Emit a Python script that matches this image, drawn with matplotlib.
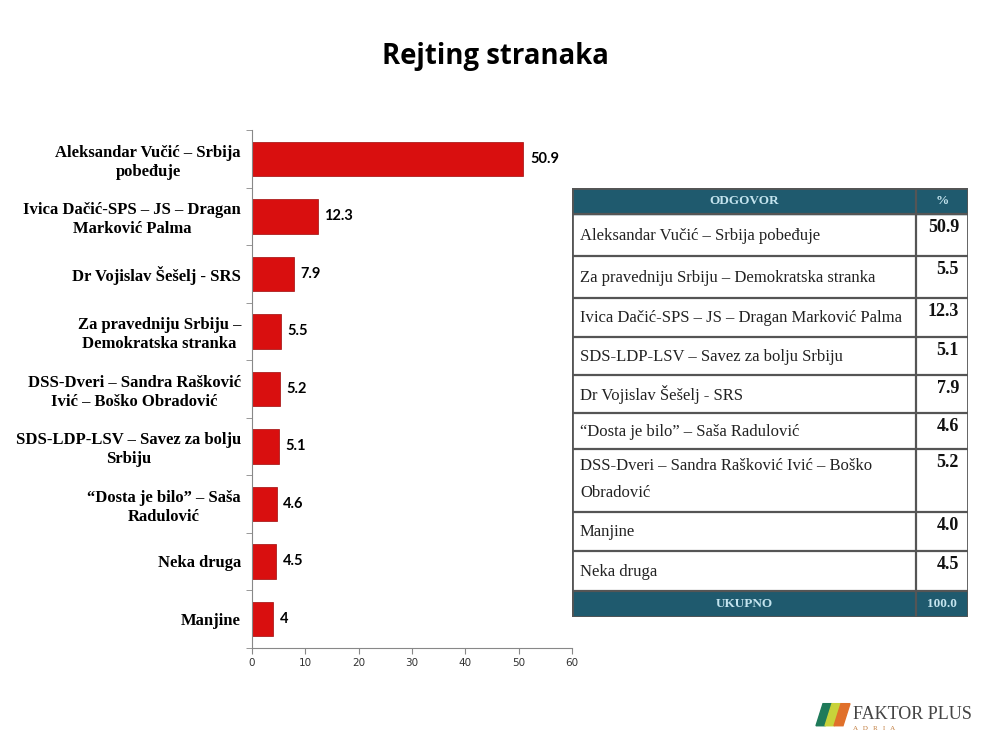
import matplotlib.pyplot as plt
from matplotlib.patches import Rectangle, Polygon
import numpy as np

# podaci - grafikon
stranke = ["Aleksandar Vučić – Srbija\npobeđuje",
           "Ivica Dačić-SPS – JS – Dragan\nMarković Palma",
           "Dr Vojislav Šešelj - SRS",
           "Za pravedniju Srbiju –\nDemokratska stranka",
           "DSS-Dveri – Sandra Rašković\nIvić – Boško Obradović",
           "SDS-LDP-LSV – Savez za bolju\nSrbiju",
           "“Dosta je bilo” – Saša\nRadulović",
           "Neka druga",
           "Manjine"]
rejting = [50.9, 12.3, 7.9, 5.5, 5.2, 5.1, 4.6, 4.5, 4]
natpisi = ["50.9", "12.3", "7.9", "5.5", "5.2", "5.1", "4.6", "4.5", "4"]
x_ticks = [0, 10, 20, 30, 40, 50, 60]

# podaci - tabela
odgovori = ["Aleksandar Vučić – Srbija pobeđuje",
            "Za pravedniju Srbiju – Demokratska stranka",
            "Ivica Dačić-SPS – JS – Dragan Marković Palma",
            "SDS-LDP-LSV – Savez za bolju Srbiju",
            "Dr Vojislav Šešelj - SRS",
            "“Dosta je bilo” – Saša Radulović",
            "DSS-Dveri – Sandra Rašković Ivić – Boško\nObradović",
            "Manjine",
            "Neka druga"]
procenti = ["50.9", "5.5", "12.3", "5.1", "7.9", "4.6", "5.2", "4.0", "4.5"]
ukupno = "100.0"

fig = plt.figure(figsize=(10, 7.48), dpi=100)
fig.patch.set_facecolor("white")

fig.text(0.495, 0.924, "Rejting stranaka", ha="center", va="center",
         fontsize=19.8, fontweight="bold", family="Open Sans")

# --- grafikon ---
ax = fig.add_axes([0.252, 0.134, 0.32, 0.692])
y = np.arange(len(stranke))
ax.barh(y, rejting, height=0.6, color="#d90f0f", edgecolor="#a00a0a", linewidth=0.5)
for yi, v, t in zip(y, rejting, natpisi):
    ax.text(v + 1.2, yi, t, va="center", ha="left", fontsize=10.5, fontweight="bold",
            family="Lato")
ax.set_ylim(len(stranke) - 0.5, -0.5)
ax.set_xlim(0, 60)
ax.set_yticks(y)
ax.set_yticklabels(stranke, family="Liberation Serif", fontweight="bold", fontsize=12,
                   linespacing=1.25, multialignment="center")
ax.set_yticks(np.arange(len(stranke) + 1) - 0.5, minor=True)
ax.tick_params(axis="y", which="major", length=0, pad=8)
ax.tick_params(axis="y", which="minor", length=4, color="#888888")
ax.set_xticks(x_ticks)
ax.tick_params(axis="x", labelsize=7.5, length=4, color="#888888", labelcolor="#333333")
for s in ["top", "right"]:
    ax.spines[s].set_visible(False)
for s in ["left", "bottom"]:
    ax.spines[s].set_color("#888888")

# --- tabela (u pikselima) ---
tx0, tx1, ty0, ty1 = 572, 968, 188, 617
ta = fig.add_axes([tx0 / 1000, 1 - ty1 / 748, (tx1 - tx0) / 1000, (ty1 - ty0) / 748])
ta.set_xlim(0, tx1 - tx0)
ta.set_ylim(ty1 - ty0, 0)
ta.axis("off")
W = tx1 - tx0
kol = 916 - tx0
granice = [0, 26, 68, 110, 149, 187, 225, 261, 324, 363, 403, 429]
teget = "#1f5a6e"
svetla = "#c4e4ee"
ta.add_patch(Rectangle((0, 0), W, granice[1], color=teget))
ta.add_patch(Rectangle((0, granice[-2]), W, granice[-1] - granice[-2], color=teget))
for tekst, xx, yy in [("ODGOVOR", kol / 2, granice[1] / 2),
                      ("%", (kol + W) / 2, granice[1] / 2),
                      ("UKUPNO", kol / 2, (granice[-2] + granice[-1]) / 2),
                      (ukupno, (kol + W) / 2, (granice[-2] + granice[-1]) / 2)]:
    ta.text(xx, yy, tekst, ha="center", va="center", color=svetla,
            family="Liberation Serif", fontweight="bold", fontsize=9.5)
for i, (o, p) in enumerate(zip(odgovori, procenti)):
    top = granice[i + 1]
    bot = granice[i + 2]
    if "\n" in o:
        ta.text(8, top + 9, o, ha="left", va="top", family="Liberation Serif",
                fontsize=12, color="#222222", linespacing=1.95)
    else:
        ta.text(8, (top + bot) / 2 + 1, o, ha="left", va="center", family="Liberation Serif",
                fontsize=12, color="#222222")
    ta.text(W - 9, top + 5, p, ha="right", va="top", family="Liberation Serif",
            fontweight="bold", fontsize=13, color="#111111")
for g in granice[1:-1]:
    ta.plot([0, W], [g, g], color="#555555", lw=1.6, solid_capstyle="butt")
ta.plot([kol, kol], [0, granice[-1]], color="#555555", lw=1.6)
ta.add_patch(Rectangle((0, 0), W, granice[-1], fill=False, edgecolor="#555555", lw=2))

# --- logo ---
la = fig.add_axes([0.81, 0.015, 0.175, 0.055])
la.set_xlim(0, 175)
la.set_ylim(41, 0)
la.axis("off")
boje = ["#1f7a5a", "#c8d23a", "#e0702a"]
for k, b in enumerate(boje):
    x0 = 6 + k * 9
    la.add_patch(Polygon([[x0, 30], [x0 + 9, 30], [x0 + 16, 8], [x0 + 7, 8]], color=b))
la.text(43, 19, "FAKTOR PLUS", ha="left", va="center", family="Liberation Serif",
        fontsize=13, color="#444444")
la.text(43, 33, "A   D   R   I   A", ha="left", va="center", family="Liberation Serif",
        fontsize=5, color="#c07a3a")

fig.savefig("out.png", dpi=100)
